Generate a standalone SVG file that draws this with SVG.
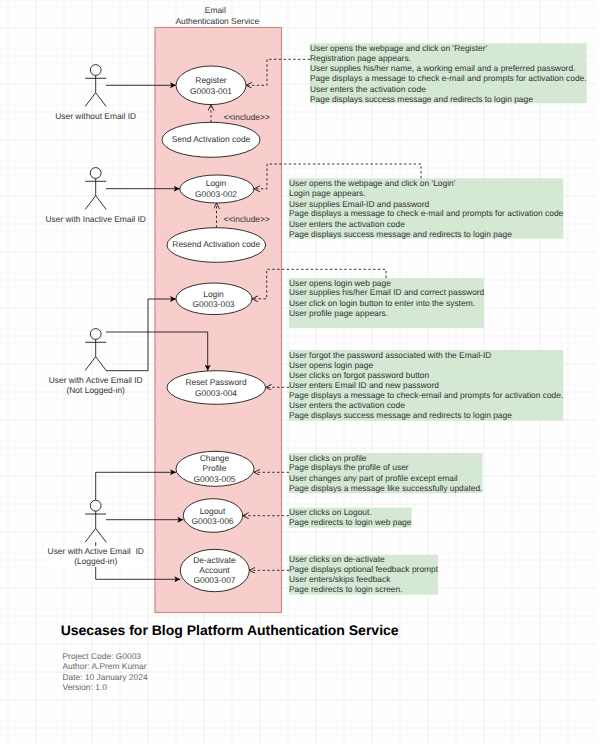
<svg xmlns="http://www.w3.org/2000/svg" width="601" height="744" viewBox="0 0 601 744">
<defs>
<style>
text{font-family:"Liberation Sans",Arial,sans-serif;font-size:8.42px;fill:#333;text-rendering:geometricPrecision}
.c{text-anchor:middle}
.m{fill:#666}
.t{font-size:14px;font-weight:bold;fill:#000}
.uc{fill:#fff;stroke:#000;stroke-width:.8}
.note{fill:#d5e8d4}
.a{fill:none;stroke:#000;stroke-width:.8}
.e{fill:none;stroke:#000;stroke-width:.8;marker-end:url(#fa)}
.d{fill:none;stroke:#000;stroke-width:.8;stroke-dasharray:2.4 2.4;marker-end:url(#oa)}
</style>
<marker id="fa" markerUnits="userSpaceOnUse" markerWidth="8" markerHeight="8" refX="6" refY="3" orient="auto"><path d="M0 0L6 3L0 6L1.5 3Z" fill="#000"/></marker>
<marker id="oa" markerUnits="userSpaceOnUse" markerWidth="8" markerHeight="8" refX="6" refY="3" orient="auto"><path d="M0 0L6 3L0 6" fill="none" stroke="#000" stroke-width=".8"/></marker>
<pattern id="g1" width="7" height="7" patternUnits="userSpaceOnUse" x="0.5" y="-0.5"><path d="M7 0H0V7" fill="none" stroke="#f3f3f3" stroke-width=".7"/></pattern>
<pattern id="g2" width="28" height="28" patternUnits="userSpaceOnUse" x="7.5" y="27.5"><path d="M28 0H0V28" fill="none" stroke="#e4e4e4" stroke-width="1"/></pattern>
<symbol id="actor" overflow="visible"><circle cx="0" cy="0" r="5.4" fill="#fff" stroke="#000" stroke-width=".8"/><path d="M0 5.4V22.7M-10.5 8.3H10.5M-10.5 36.5L0 22.7L10.5 36.5" class="a"/></symbol>
</defs>
<rect width="601" height="744" fill="#fff"/>
<rect width="595.5" height="744" fill="url(#g1)"/>
<rect width="595.5" height="744" fill="url(#g2)"/>
<g id="boundary">
<rect x="155" y="27.5" width="126.5" height="585" fill="#f8cecc" stroke="#d08a88" stroke-width="1.2"/>
<text class="c" x="215.3" y="13">Email</text>
<text class="c" x="217.3" y="24">Authentication Service</text>
</g>
<g id="notes">
<g id="note1"><rect class="note" x="310" y="43.3" width="276.7" height="60"/>
<text x="310" y="51.3">User opens the webpage and click on 'Register'</text>
<text x="310" y="61.3">Registration page appears.</text>
<text x="310" y="71.3">User supplies his/her name, a working email and a preferred password.</text>
<text x="310" y="81.3">Page displays a message to check e-mail and prompts for activation code.</text>
<text x="310" y="92.3">User enters the activation code</text>
<text x="310" y="102.3">Page displays success message and redirects to login page</text></g>
<g id="note2"><rect class="note" x="289" y="178.3" width="274.3" height="60.4"/>
<text x="289" y="186.3">User opens the webpage and click on 'Login'</text>
<text x="289" y="196.3">Login page appears.</text>
<text x="289" y="207.3">User supplies Email-ID and password</text>
<text x="289" y="216.3">Page displays a message to check e-mail and prompts for activation code</text>
<text x="289" y="227.3">User enters the activation code</text>
<text x="289" y="237.3">Page displays success message and redirects to login page</text></g>
<g id="note3"><rect class="note" x="289" y="278" width="195" height="50"/>
<text x="289" y="286.3">User opens login web page</text>
<text x="289" y="295.3">User supplies his/her Email ID and correct password</text>
<text x="289" y="306.3">User click on login button to enter into the system.</text>
<text x="289" y="316.3">User profile page appears.</text></g>
<g id="note4"><rect class="note" x="289" y="350" width="274.3" height="70.7"/>
<text x="289" y="358.3">User forgot the password associated with the Email-ID</text>
<text x="289" y="368.3">User opens login page</text>
<text x="289" y="378.3">User clicks on forgot password button</text>
<text x="289" y="388.3">User enters Email ID and new password</text>
<text x="289" y="398.3">Page displays a message to check-email and prompts for activation code.</text>
<text x="289" y="408.3">User enters the activation code</text>
<text x="289" y="418.3">Page displays success message and redirects to login page</text></g>
<g id="note5"><rect class="note" x="289" y="453" width="193.3" height="40.3"/>
<text x="289" y="461.3">User clicks on profile</text>
<text x="289" y="470.3">Page displays the profile of user</text>
<text x="289" y="481.3">User changes any part of profile except email</text>
<text x="289" y="491.3">Page displays a message like successfully updated.</text></g>
<g id="note6"><rect class="note" x="289" y="507.7" width="122.7" height="20"/>
<text x="289" y="515.3">User clicks on Logout.</text>
<text x="289" y="525.3">Page redirects to login web page</text></g>
<g id="note7"><rect class="note" x="289" y="554.7" width="149" height="40"/>
<text x="289" y="562.3">User clicks on de-activate</text>
<text x="289" y="572.3">Page displays optional feedback prompt</text>
<text x="289" y="582.3">User enters/skips feedback</text>
<text x="289" y="592.3">Page redirects to login screen.</text></g>
</g>
<g id="connectors">
<path class="e" d="M106 85.3H176"/>
<path class="e" d="M106 188.7H179.7"/>
<path class="e" d="M106 370.7H148V299H176"/>
<path class="e" d="M106 332H207.7V370.7"/>
<path class="e" d="M95.7 500V472.3H176"/>
<path class="e" d="M106 519.7H183.3"/>
<path class="e" d="M95.7 542.3V579.3H180.3"/>
<path class="d" d="M211 122.3V104.7"/>
<path class="d" d="M216.5 227.7V203"/>
<path class="d" d="M310 59.3H267V85.3H246"/>
<path class="d" d="M421 178.3V164H267V188.8H254"/>
<path class="d" d="M386 278V269.3H266.7V298.8H252"/>
<path class="d" d="M289 387.3H265.7"/>
<path class="d" d="M289 472.3H254"/>
<path class="d" d="M289 515.7H242.7"/>
<path class="d" d="M289 570.3H249.3"/>
</g>
<g id="actor1"><use href="#actor" x="95.7" y="70"/><text class="c" x="95.7" y="119">User without Email ID</text></g>
<g id="actor2"><use href="#actor" x="95.7" y="173"/><text class="c" x="95.7" y="222">User with Inactive Email ID</text></g>
<g id="actor3"><use href="#actor" x="95.7" y="334"/><text class="c" x="95.7" y="383">User with Active Email ID</text><text class="c" x="95.7" y="393.3">(Not Logged-in)</text></g>
<g id="actor4"><use href="#actor" x="95.7" y="505.7"/><rect x="47" y="546" width="97" height="21" fill="#fff"/><text class="c" x="95.7" y="554" xml:space="preserve">User with Active Email  ID</text><text class="c" x="95.7" y="564.3">(Logged-in)</text></g>
<g id="uc1"><ellipse class="uc" cx="211" cy="85.3" rx="35" ry="19.3"/><text class="c" x="211" y="83.3">Register</text><text class="c" x="211" y="94.3">G0003-001</text></g>
<g id="uc1a"><ellipse class="uc" cx="211" cy="139.8" rx="49" ry="17.5"/><text class="c" x="211" y="142.3">Send Activation code</text></g>
<g id="uc2"><ellipse class="uc" cx="216.8" cy="189" rx="37" ry="14"/><text class="c" x="216" y="186.3">Login</text><text class="c" x="216" y="197.3">G0003-002</text></g>
<g id="uc2a"><ellipse class="uc" cx="216.3" cy="245" rx="49.3" ry="17.3"/><text class="c" x="216.3" y="247.3">Resend Activation code</text></g>
<g id="uc3"><ellipse class="uc" cx="214" cy="298.8" rx="38" ry="15.8"/><text class="c" x="213.5" y="297.3">Login</text><text class="c" x="213.5" y="307">G0003-003</text></g>
<g id="uc4"><ellipse class="uc" cx="216.3" cy="387.5" rx="49.3" ry="16.8"/><text class="c" x="216" y="385">Reset Password</text><text class="c" x="216" y="396">G0003-004</text></g>
<g id="uc5"><ellipse class="uc" cx="215" cy="468.8" rx="39" ry="17.5"/><text class="c" x="214.5" y="461.3">Change</text><text class="c" x="214.5" y="471.3">Profile</text><text class="c" x="214.5" y="482">G0003-005</text></g>
<g id="uc6"><ellipse class="uc" cx="213" cy="515.5" rx="29.7" ry="16.8"/><text class="c" x="212.5" y="514.3">Logout</text><text class="c" x="212.5" y="524">G0003-006</text></g>
<g id="uc7"><ellipse class="uc" cx="214.8" cy="570.5" rx="34.5" ry="21.2"/><text class="c" x="214.5" y="563">De-activate</text><text class="c" x="214.5" y="573.3">Account</text><text class="c" x="214.5" y="583">G0003-007</text></g>
<g id="labels">
<text class="c" x="246.7" y="120">&lt;&lt;include&gt;&gt;</text>
<text class="c" x="246.7" y="222">&lt;&lt;include&gt;&gt;</text>
</g>
<g id="footer">
<text class="t" x="60.7" y="635">Usecases for Blog Platform Authentication Service</text>
<text class="m" x="62.5" y="659.3">Project Code: G0003</text>
<text class="m" x="62.5" y="669">Author: A.Prem Kumar</text>
<text class="m" x="62.5" y="680">Date: 10 January 2024</text>
<text class="m" x="62.5" y="690.3">Version: 1.0</text>
</g>
</svg>
